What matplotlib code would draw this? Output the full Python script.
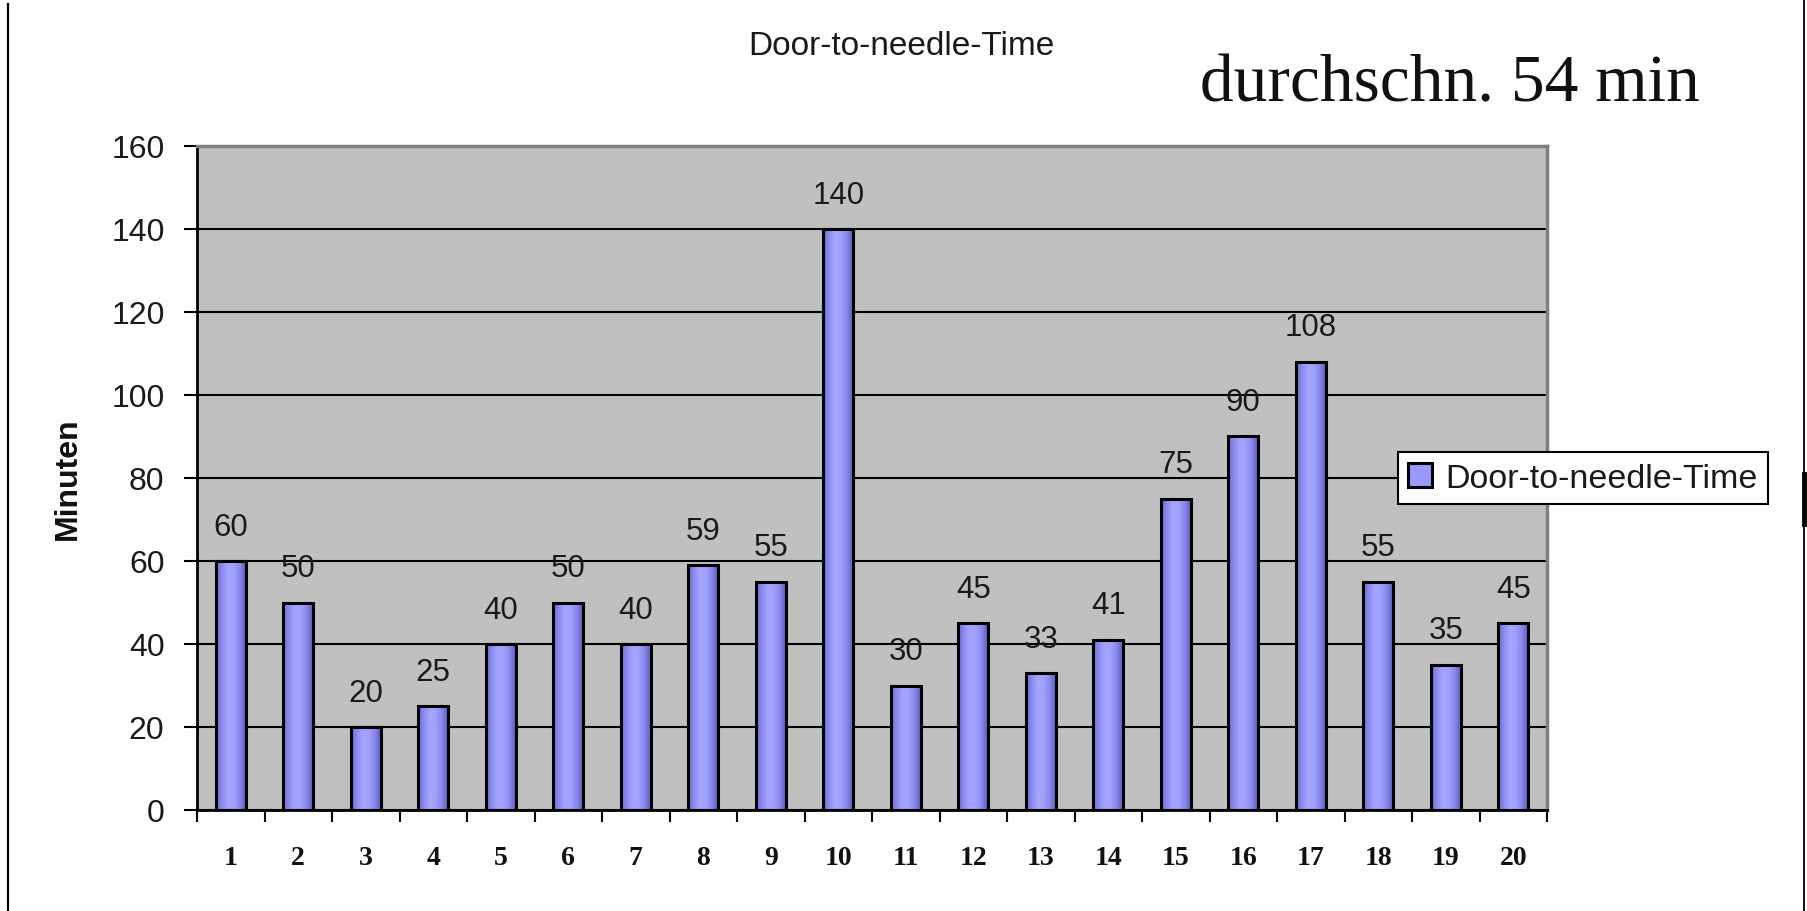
import numpy as np
import matplotlib
matplotlib.use("Agg")
import matplotlib.pyplot as plt
from matplotlib.colors import LinearSegmentedColormap
from matplotlib.patches import Patch
from matplotlib.lines import Line2D

# ---- data ----
categories = [str(i) for i in range(1, 21)]
values = [60, 50, 20, 25, 40, 50, 40, 59, 55, 140, 30, 45, 33, 41, 75, 90, 108, 55, 35, 45]
yticks = [0, 20, 40, 60, 80, 100, 120, 140, 160]
title = "Door-to-needle-Time"
series_name = "Door-to-needle-Time"
ylabel = "Minuten"
note = "durchschn. 54 min"

W, H = 1807, 912
fig = plt.figure(figsize=(W / 100, H / 100), dpi=100)
fig.patch.set_facecolor("white")

L, R, T, B = 197, 1547, 147, 811
ax = fig.add_axes([L / W, 1 - B / H, (R - L) / W, (B - T) / H])
ax.set_facecolor("#C0C0C0")

x = np.arange(len(values))
bw = 0.44
bars = ax.bar(x, values, width=bw, color="#9999FF", edgecolor="none", zorder=2)

cmap = LinearSegmentedColormap.from_list(
    "cyl", ["#6a6ad0", "#8c8cf0", "#a6a6ff", "#a0a0ff", "#8888ec", "#5c5cbc"])
grad = np.linspace(0, 1, 128)[None, :]
for rect in bars:
    x0 = rect.get_x()
    im = ax.imshow(grad, extent=(x0, x0 + rect.get_width(), 0, rect.get_height()),
                   aspect="auto", cmap=cmap, zorder=3, interpolation="bilinear")
    im.set_clip_path(rect)
ax.bar(x, values, width=bw, facecolor="none", edgecolor="black", linewidth=2.2, zorder=4)

for xi, v in zip(x, values):
    ax.annotate(str(v), (xi, v), xytext=(0, 19), textcoords="offset points",
                ha="center", va="baseline", fontsize=22.5, color="#1a1a1a",
                family="Liberation Sans", zorder=5)

ax.set_xlim(-0.5, len(values) - 0.5)
ax.set_ylim(0, 160)
ax.set_yticks(yticks)
ax.set_yticklabels([str(t) for t in yticks], fontsize=23, family="Liberation Sans",
                   color="#1a1a1a")
ax.tick_params(axis="y", direction="out", length=9.4, width=1.5, pad=14, color="black")

# x ticks at boundaries, labels at centers
ax.set_xticks(np.arange(len(values) + 1) - 0.5)
ax.set_xticklabels([])
ax.tick_params(axis="x", which="major", direction="out", length=8.6, width=1.5, color="black")
ax.set_xticks(x, minor=True)
ax.set_xticklabels(categories, minor=True, fontsize=20, fontweight="bold",
                   family="Liberation Serif", color="#111111")
ax.tick_params(axis="x", which="minor", length=0, pad=25)

ax.yaxis.grid(True, color="black", linewidth=1.5, zorder=1)
ax.set_axisbelow(True)
ax.spines["left"].set_color("black")
ax.spines["left"].set_linewidth(2)
ax.spines["bottom"].set_color("black")
ax.spines["bottom"].set_linewidth(2)
for s in ("top", "right"):
    ax.spines[s].set_color("#808080")
    ax.spines[s].set_linewidth(2.5)

# texts
fig.text(901 / W, 1 - 55 / H, title, ha="center", va="baseline", fontsize=24,
         family="Liberation Sans", color="#1a1a1a")
fig.text(68 / W, 1 - 479 / H, ylabel, rotation=90, ha="center", va="center",
         fontsize=23, fontweight="bold", family="Liberation Sans", color="#111111")
fig.text(1450 / W, 1 - 101 / H, note, ha="center", va="baseline", fontsize=48.5,
         family="Liberation Serif", color="#111111")

leg = fig.legend(handles=[Patch(facecolor="#9999FF", edgecolor="black", linewidth=2.2)],
                 labels=[series_name], loc="center left",
                 bbox_to_anchor=(1398 / W, 1 - 479 / H), borderaxespad=0,
                 frameon=True, fancybox=False, edgecolor="black", framealpha=1,
                 handlelength=0.7, handleheight=0.7, handletextpad=0.4,
                 borderpad=0.3, prop={"family": "Liberation Sans", "size": 24.5})
leg.get_frame().set_linewidth(1.5)
for t in leg.get_texts():
    t.set_color("#1a1a1a")

# slide border lines
fig.add_artist(Line2D([8 / W, 8 / W], [0, 1 - 5 / H], transform=fig.transFigure,
                      color="black", linewidth=1.6))
fig.add_artist(Line2D([1804 / W, 1804 / W], [0, 1], transform=fig.transFigure,
                      color="black", linewidth=1.3))
fig.add_artist(Line2D([1804 / W, 1804 / W], [1 - 525 / H, 1 - 475 / H],
                      transform=fig.transFigure, color="black", linewidth=3.5))

fig.savefig("out.png", dpi=100, facecolor="white")
